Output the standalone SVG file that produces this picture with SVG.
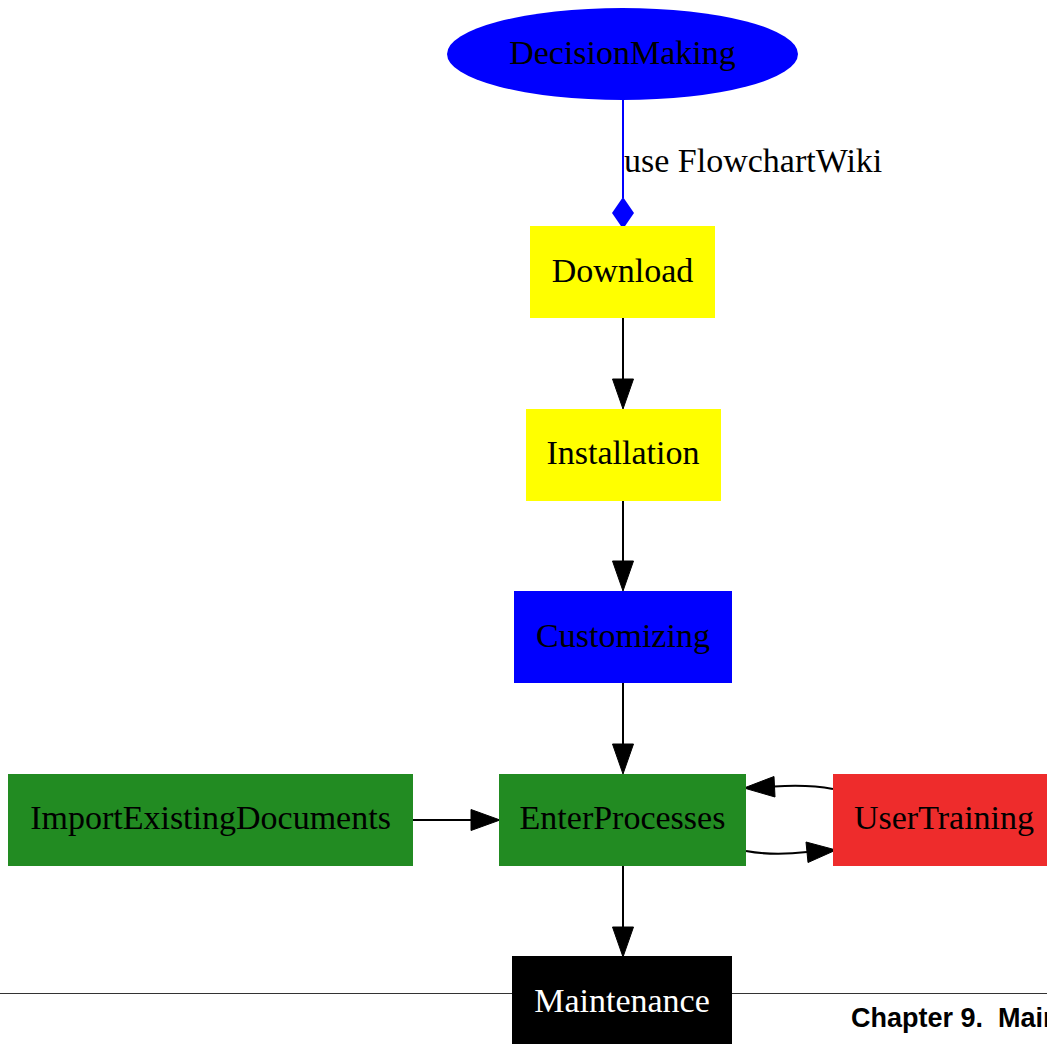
<svg xmlns="http://www.w3.org/2000/svg" width="1047" height="1044" viewBox="0 0 1047 1044">
<style>
text { font-family: "Liberation Serif", "Times New Roman", serif; font-size: 34px; text-anchor: middle; fill: #000; }
.edge { fill: none; stroke: #000; stroke-width: 2; }
.ah { fill: #000; stroke: #000; stroke-width: 1; }
.hdr { font-family: "Liberation Sans", Arial, sans-serif; font-weight: bold; font-size: 27px; text-anchor: start; white-space: pre; }
</style>
<rect x="0" y="0" width="1047" height="1044" fill="#fff"/>
<g id="page-rule">
<line x1="0" y1="993.5" x2="1047" y2="993.5" stroke="#333" stroke-width="1"/>
<text class="hdr" x="851" y="1027" xml:space="preserve">Chapter 9.  Main</text>
</g>
<g id="connectors">
<g id="e-decision-download">
<line x1="623" y1="100" x2="623" y2="198" stroke="#0000ff" stroke-width="2"/>
<polygon points="623,197 634,213 623,229 612,213" fill="#0000ff"/>
<text x="624" y="172" style="text-anchor:start">use FlowchartWiki</text>
</g>
<g id="e-download-installation">
<line class="edge" x1="623" y1="318" x2="623" y2="380"/>
<polygon class="ah" points="612.5,379 633.5,379 623,409"/>
</g>
<g id="e-installation-customizing">
<line class="edge" x1="623" y1="501" x2="623" y2="562"/>
<polygon class="ah" points="612.5,561 633.5,561 623,591"/>
</g>
<g id="e-customizing-enter">
<line class="edge" x1="623" y1="683" x2="623" y2="745"/>
<polygon class="ah" points="612.5,744 633.5,744 623,774"/>
</g>
<g id="e-import-enter">
<line class="edge" x1="413" y1="820" x2="472" y2="820"/>
<polygon class="ah" points="471,809.5 471,830.5 500,820"/>
</g>
<g id="e-training-enter">
<path class="edge" d="M833,789 C815,785.5 796,785 774,786.5"/>
<polygon class="ah" points="774,776.5 775,797 744,788"/>
</g>
<g id="e-enter-training">
<path class="edge" d="M746,851 C765,854.5 786,854.5 807,852"/>
<polygon class="ah" points="806,842 808,862.5 836,850"/>
</g>
<g id="e-enter-maintenance">
<line class="edge" x1="623" y1="866" x2="623" y2="928"/>
<polygon class="ah" points="612.5,927 633.5,927 623,957"/>
</g>
</g>
<g id="n-DecisionMaking">
<ellipse cx="622.5" cy="54" rx="175.5" ry="46" fill="#0000ff"/>
<text x="622.5" y="64">DecisionMaking</text>
</g>
<g id="n-Download">
<rect x="530" y="226" width="185" height="92" fill="#ffff00"/>
<text x="622.5" y="282">Download</text>
</g>
<g id="n-Installation">
<rect x="526" y="409" width="195" height="92" fill="#ffff00"/>
<text x="623" y="464">Installation</text>
</g>
<g id="n-Customizing">
<rect x="514" y="591" width="218" height="92" fill="#0000ff"/>
<text x="623" y="647">Customizing</text>
</g>
<g id="n-ImportExistingDocuments">
<rect x="8" y="774" width="405" height="92" fill="#228b22"/>
<text x="210.5" y="829">ImportExistingDocuments</text>
</g>
<g id="n-EnterProcesses">
<rect x="499" y="774" width="247" height="92" fill="#228b22"/>
<text x="622.5" y="829">EnterProcesses</text>
</g>
<g id="n-UserTraining">
<rect x="833" y="774" width="230" height="92" fill="#ee2c2c"/>
<text x="944" y="829">UserTraining</text>
</g>
<g id="n-Maintenance">
<rect x="512" y="956" width="220" height="100" fill="#000"/>
<text x="622" y="1012" style="fill:#fff">Maintenance</text>
</g>
</svg>
